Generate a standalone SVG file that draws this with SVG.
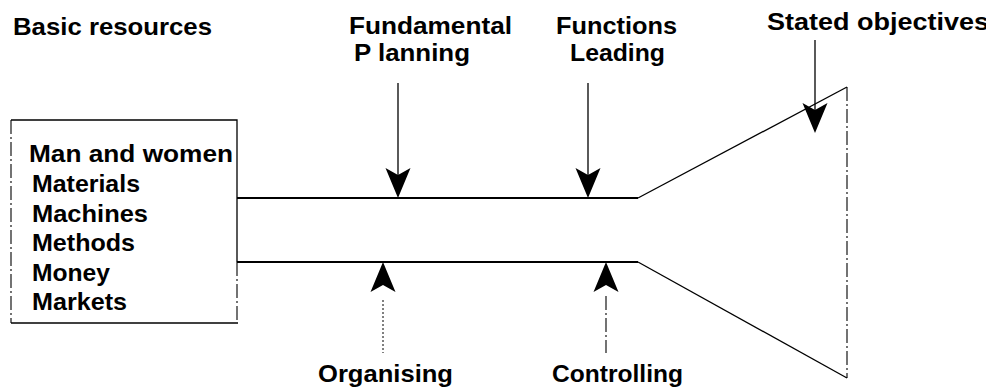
<svg xmlns="http://www.w3.org/2000/svg" xmlns:xlink="http://www.w3.org/1999/xlink" width="986" height="388" viewBox="0 0 986 388">
  <style>
    text { font-family: "Liberation Sans", Arial, sans-serif; font-size: 24px; font-weight: bold; fill: #000; }
    .edge { fill: none; stroke: #000; stroke-width: 1.3; }
    .thick { fill: none; stroke: #000; stroke-width: 2; }
    .faint { fill: none; stroke: #000; stroke-width: 1.1; stroke-dasharray: 14 3 2 3; }
    .dotted { fill: none; stroke: #000; stroke-width: 1; stroke-dasharray: 2 2; }
    .conn { fill: none; stroke: #000; stroke-width: 1.3; }
    .head { fill: #000; stroke: none; }
  </style>
  <defs>
    <!-- notched arrowhead pointing down, tip at the origin -->
    <path id="ah" d="M0,0 L-12.5,-30 L0,-23 L12.5,-30 Z"/>
  </defs>

  <rect width="986" height="388" fill="#fff"/>

  <!-- resources box -->
  <g id="resources">
    <text x="13" y="35" textLength="199" lengthAdjust="spacingAndGlyphs">Basic resources</text>
    <path class="faint" d="M11,120 V323"/>
    <path class="edge" d="M11,120 H237 V262"/>
    <path class="faint" d="M237,262 V323"/>
    <path class="edge" d="M11,323 H238"/>
    <text x="29" y="162" textLength="204" lengthAdjust="spacingAndGlyphs">Man and women</text>
    <text x="32" y="192" textLength="108" lengthAdjust="spacingAndGlyphs">Materials</text>
    <text x="32" y="222" textLength="116" lengthAdjust="spacingAndGlyphs">Machines</text>
    <text x="32" y="251" textLength="103" lengthAdjust="spacingAndGlyphs">Methods</text>
    <text x="32" y="281" textLength="78" lengthAdjust="spacingAndGlyphs">Money</text>
    <text x="32" y="310" textLength="95" lengthAdjust="spacingAndGlyphs">Markets</text>
  </g>

  <!-- channel widening into the objectives funnel -->
  <g id="channel">
    <path class="thick" d="M237,198 H638"/>
    <path class="thick" d="M237,262 H638"/>
    <path class="edge" d="M638,198 L847,87"/>
    <path class="edge" d="M638,262 L847,378"/>
    <path class="faint" d="M847,87 V378"/>
  </g>

  <!-- function labels -->
  <g id="planning">
    <text x="349" y="34" textLength="163" lengthAdjust="spacingAndGlyphs">Fundamental</text>
    <text x="354" y="61" textLength="116" lengthAdjust="spacingAndGlyphs">P lanning</text>
  </g>
  <g id="leading">
    <text x="556" y="34" textLength="121" lengthAdjust="spacingAndGlyphs">Functions</text>
    <text x="570" y="61" textLength="95" lengthAdjust="spacingAndGlyphs">Leading</text>
  </g>
  <g id="objectives">
    <text x="767" y="30" textLength="222" lengthAdjust="spacingAndGlyphs">Stated objectives</text>
  </g>
  <g id="organising">
    <text x="318" y="382" textLength="135" lengthAdjust="spacingAndGlyphs">Organising</text>
  </g>
  <g id="controlling">
    <text x="552" y="382" textLength="131" lengthAdjust="spacingAndGlyphs">Controlling</text>
  </g>

  <!-- connectors -->
  <g id="connectors">
    <path class="conn" d="M398,83 V175"/>
    <use href="#ah" xlink:href="#ah" class="head" transform="translate(398,198)"/>
    <path class="conn" d="M588,83 V175"/>
    <use href="#ah" xlink:href="#ah" class="head" transform="translate(588,198)"/>
    <path class="conn" d="M815,40 V110"/>
    <use href="#ah" xlink:href="#ah" class="head" transform="translate(815,133)"/>
    <path class="dotted" d="M383,300 V353"/>
    <use href="#ah" xlink:href="#ah" class="head" transform="translate(383,262) rotate(180)"/>
    <path class="faint" d="M606,296 V353"/>
    <use href="#ah" xlink:href="#ah" class="head" transform="translate(606,262) rotate(180)"/>
  </g>
</svg>
